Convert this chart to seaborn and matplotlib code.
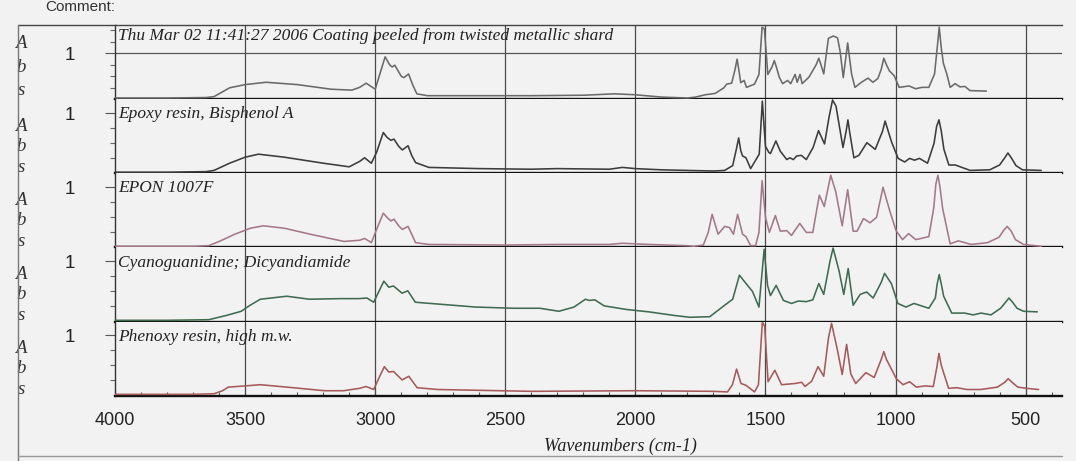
import numpy as np
import pandas as pd
import matplotlib
matplotlib.use("Agg")
import matplotlib.pyplot as plt
import matplotlib.transforms as mtransforms
from matplotlib.lines import Line2D
import seaborn as sns

# spectrum titles, top to bottom
titles = [
    "Thu Mar 02 11:41:27 2006 Coating peeled from twisted metallic shard",
    "Epoxy resin, Bisphenol A",
    "EPON 1007F",
    "Cyanoguanidine; Dicyandiamide",
    "Phenoxy resin, high m.w.",
]

# 1) unknown coating from the shard
shard_wn = [4000, 3800, 3650, 3620, 3560, 3500, 3420, 3300, 3170, 3090, 3060, 3035, 3000, 2985,
            2962, 2945, 2935, 2925, 2900, 2890, 2872, 2855, 2840, 2800, 2600, 2400, 2200, 2080,
            2000, 1900, 1800, 1769, 1731, 1693, 1660, 1649, 1630, 1618, 1609, 1600, 1595, 1582,
            1573, 1542, 1525, 1513, 1504, 1491, 1475, 1466, 1457, 1447, 1434, 1415, 1403, 1386,
            1378, 1367, 1359, 1333, 1305, 1295, 1285, 1276, 1258, 1239, 1223, 1213, 1201, 1190,
            1184, 1178, 1169, 1156, 1131, 1106, 1087, 1068, 1055, 1045, 1035, 1024, 1005, 986,
            948, 923, 898, 872, 850, 840, 832, 824, 816, 803, 790, 771, 752, 733, 714, 651]
shard_abs = [0.03, 0.03, 0.04, 0.06, 0.25, 0.32, 0.37, 0.32, 0.22, 0.20, 0.26, 0.35, 0.22, 0.50,
             0.92, 0.75, 0.70, 0.74, 0.50, 0.47, 0.55, 0.30, 0.12, 0.08, 0.08, 0.08, 0.09, 0.12,
             0.10, 0.05, 0.03, 0.05, 0.10, 0.13, 0.25, 0.33, 0.35, 0.62, 0.87, 0.55, 0.36, 0.41,
             0.26, 0.33, 0.54, 1.56, 1.52, 0.54, 0.70, 0.84, 0.68, 0.48, 0.34, 0.41, 0.34, 0.54,
             0.37, 0.54, 0.34, 0.48, 0.75, 0.89, 0.72, 0.55, 1.32, 1.37, 1.33, 1.04, 0.47, 0.95,
             1.22, 0.95, 0.55, 0.26, 0.37, 0.46, 0.37, 0.45, 0.65, 0.89, 0.75, 0.62, 0.51, 0.26,
             0.29, 0.23, 0.26, 0.26, 0.55, 1.10, 1.56, 1.10, 0.78, 0.55, 0.26, 0.34, 0.27, 0.28,
             0.19, 0.18]

# 2) epoxy resin, bisphenol A
epoxy_wn = [4000, 3800, 3650, 3620, 3560, 3500, 3449, 3350, 3200, 3100, 3060, 3041, 3015, 2995,
            2969, 2955, 2940, 2928, 2910, 2896, 2874, 2860, 2845, 2794, 2600, 2400, 2300, 2100,
            2050, 2000, 1900, 1800, 1700, 1657, 1626, 1612, 1603, 1595, 1588, 1575, 1557, 1524,
            1512, 1500, 1487, 1481, 1460, 1443, 1418, 1406, 1393, 1380, 1362, 1343, 1317, 1296,
            1273, 1255, 1242, 1229, 1202, 1190, 1183, 1175, 1160, 1141, 1110, 1078, 1050, 1040,
            1028, 1015, 990, 965, 946, 927, 908, 877, 852, 842, 833, 824, 814, 795, 770, 745,
            713, 638, 600, 580, 568, 555, 537, 512, 440]
epoxy_abs = [0.02, 0.02, 0.03, 0.05, 0.17, 0.27, 0.32, 0.27, 0.17, 0.11, 0.20, 0.26, 0.17, 0.35,
             0.68, 0.60, 0.55, 0.57, 0.45, 0.39, 0.46, 0.30, 0.18, 0.10, 0.08, 0.07, 0.08, 0.07,
             0.10, 0.08, 0.06, 0.05, 0.04, 0.05, 0.13, 0.40, 0.59, 0.38, 0.29, 0.26, 0.08, 0.32,
             1.20, 0.45, 0.35, 0.33, 0.54, 0.37, 0.23, 0.26, 0.23, 0.29, 0.30, 0.23, 0.43, 0.71,
             0.49, 0.95, 1.22, 1.12, 0.43, 0.70, 0.89, 0.65, 0.26, 0.30, 0.51, 0.40, 0.70, 0.87,
             0.70, 0.52, 0.25, 0.19, 0.25, 0.22, 0.25, 0.17, 0.50, 0.78, 0.89, 0.70, 0.40, 0.14,
             0.14, 0.10, 0.05, 0.06, 0.14, 0.26, 0.34, 0.26, 0.13, 0.06, 0.05]

# 3) EPON 1007F
epon_wn = [4000, 3700, 3640, 3600, 3540, 3480, 3430, 3350, 3250, 3120, 3060, 3041, 3015, 2995,
           2969, 2955, 2940, 2928, 2910, 2896, 2874, 2860, 2845, 2794, 2500, 2300, 2100, 2050,
           1950, 1800, 1776, 1739, 1720, 1705, 1682, 1657, 1638, 1623, 1607, 1588, 1575, 1557,
           1538, 1525, 1513, 1500, 1485, 1462, 1443, 1418, 1400, 1368, 1343, 1318, 1293, 1274,
           1249, 1230, 1205, 1184, 1163, 1148, 1123, 1098, 1073, 1058, 1048, 1035, 1023, 998,
           973, 950, 922, 872, 853, 845, 837, 829, 819, 790, 759, 709, 646, 602, 585, 571, 555,
           539, 508, 440]
epon_abs = [0.02, 0.02, 0.03, 0.10, 0.22, 0.32, 0.36, 0.32, 0.22, 0.10, 0.12, 0.15, 0.08, 0.30,
            0.57, 0.50, 0.44, 0.47, 0.36, 0.30, 0.35, 0.22, 0.08, 0.05, 0.04, 0.05, 0.05, 0.07,
            0.05, 0.03, 0.02, 0.04, 0.25, 0.55, 0.22, 0.35, 0.33, 0.22, 0.55, 0.22, 0.18, 0.03,
            0.03, 0.25, 1.11, 0.50, 0.25, 0.53, 0.27, 0.28, 0.20, 0.40, 0.25, 0.25, 0.87, 0.68,
            1.20, 0.93, 0.36, 0.96, 0.27, 0.27, 0.48, 0.41, 0.50, 0.80, 1.00, 0.80, 0.62, 0.28,
            0.13, 0.23, 0.13, 0.18, 0.66, 1.05, 1.20, 1.00, 0.65, 0.06, 0.11, 0.05, 0.08, 0.17,
            0.28, 0.35, 0.27, 0.13, 0.05, 0.02]

# 4) cyanoguanidine / dicyandiamide
cyano_wn = [4000, 3800, 3640, 3573, 3515, 3485, 3442, 3340, 3253, 3137, 3064, 3032, 3006, 2967,
            2948, 2930, 2897, 2875, 2846, 2759, 2614, 2468, 2367, 2294, 2236, 2192, 2178, 2156,
            2120, 2035, 1948, 1850, 1790, 1714, 1663, 1626, 1600, 1582, 1550, 1525, 1505, 1492,
            1481, 1459, 1431, 1400, 1374, 1343, 1318, 1295, 1276, 1252, 1240, 1217, 1199, 1182,
            1163, 1136, 1111, 1086, 1055, 1042, 1016, 991, 960, 929, 872, 847, 840, 832, 824,
            815, 784, 734, 702, 671, 633, 596, 575, 564, 550, 533, 508, 455]
cyano_abs = [0.02, 0.02, 0.03, 0.10, 0.17, 0.26, 0.37, 0.42, 0.37, 0.38, 0.38, 0.39, 0.32, 0.67,
             0.57, 0.59, 0.47, 0.51, 0.32, 0.29, 0.24, 0.22, 0.22, 0.17, 0.24, 0.37, 0.35, 0.36,
             0.26, 0.20, 0.16, 0.10, 0.07, 0.08, 0.25, 0.37, 0.77, 0.67, 0.50, 0.24, 1.20, 0.60,
             0.43, 0.60, 0.35, 0.30, 0.34, 0.33, 0.36, 0.63, 0.45, 1.00, 1.22, 0.84, 0.45, 0.88,
             0.27, 0.45, 0.49, 0.39, 0.65, 0.80, 0.63, 0.30, 0.24, 0.30, 0.22, 0.39, 0.62, 0.78,
             0.62, 0.42, 0.14, 0.14, 0.11, 0.14, 0.11, 0.22, 0.33, 0.39, 0.32, 0.22, 0.17, 0.16]

# 5) phenoxy resin
phenoxy_wn = [4000, 3700, 3620, 3587, 3565, 3500, 3442, 3340, 3195, 3122, 3060, 3035, 3006, 2985,
              2965, 2948, 2930, 2897, 2871, 2839, 2759, 2400, 2000, 1700, 1646, 1627, 1611, 1594,
              1575, 1542, 1527, 1512, 1503, 1490, 1464, 1438, 1412, 1387, 1361, 1348, 1322, 1298,
              1276, 1258, 1246, 1224, 1205, 1188, 1172, 1153, 1114, 1082, 1055, 1045, 1035, 1017,
              997, 971, 946, 920, 887, 855, 842, 833, 824, 813, 796, 764, 725, 673, 608, 580, 567,
              552, 530, 497, 450]
phenoxy_abs = [0.02, 0.02, 0.03, 0.08, 0.14, 0.16, 0.18, 0.14, 0.08, 0.08, 0.12, 0.15, 0.10, 0.30,
               0.48, 0.39, 0.40, 0.26, 0.32, 0.13, 0.10, 0.07, 0.08, 0.07, 0.06, 0.18, 0.44, 0.20,
               0.17, 0.06, 0.18, 1.22, 1.15, 0.23, 0.42, 0.18, 0.19, 0.20, 0.22, 0.15, 0.24, 0.48,
               0.32, 0.95, 1.20, 0.77, 0.35, 0.85, 0.36, 0.20, 0.38, 0.30, 0.60, 0.73, 0.60, 0.45,
               0.28, 0.18, 0.23, 0.14, 0.16, 0.15, 0.45, 0.70, 0.50, 0.35, 0.12, 0.13, 0.10, 0.10,
               0.14, 0.22, 0.28, 0.22, 0.14, 0.12, 0.10]

x_ticks = [4000, 3500, 3000, 2500, 2000, 1500, 1000, 500]

spectra = [(shard_wn, shard_abs), (epoxy_wn, epoxy_abs), (epon_wn, epon_abs),
           (cyano_wn, cyano_abs), (phenoxy_wn, phenoxy_abs)]
colors = ["#6a6a6a", "#3c3c3c", "#a4788a", "#3f6b52", "#a65a5a"]
y_max = [1.6, 1.23, 1.23, 1.23, 1.23]

paper = "#f2f2f2"
sns.set_theme(style="white", rc={"axes.facecolor": paper, "figure.facecolor": paper})
plt.rcParams["font.family"] = ["Liberation Serif", "DejaVu Serif"]

fig = plt.figure(figsize=(10.76, 4.61), dpi=100)
gs = fig.add_gridspec(5, 1, left=0.107, right=0.987, top=0.945, bottom=0.142, hspace=0)
axes = [fig.add_subplot(gs[i, 0]) for i in range(5)]

sans = ["Liberation Sans", "DejaVu Sans"]

for i, ax in enumerate(axes):
    wn, ab = spectra[i]
    df = pd.DataFrame({"wavenumber": wn, "absorbance": ab})
    sns.lineplot(data=df, x="wavenumber", y="absorbance", ax=ax, color=colors[i],
                 linewidth=1.15, sort=False, estimator=None, zorder=3)
    for ln in ax.lines:
        ln.set_solid_joinstyle("round")
    ax.set_xlim(4000, 360)
    ax.set_ylim(0, y_max[i])
    ax.set_xlabel("")
    ax.set_ylabel("")
    for g in x_ticks[1:]:
        ax.axvline(g, color="#4a4a4a", lw=0.9, zorder=1)

    ax.spines["right"].set_visible(False)
    ax.spines["top"].set_visible(i == 0)
    ax.spines["top"].set_color("#444444")
    ax.spines["top"].set_linewidth(1.0)
    ax.spines["bottom"].set_color("#111111")
    ax.spines["bottom"].set_linewidth(1.7)
    ax.spines["left"].set_color("#333333")
    ax.spines["left"].set_linewidth(1.0)

    ax.set_yticks([1])
    ax.set_yticklabels(["1"], family=sans, fontsize=13.5, color="#222222")
    minors = [0.25, 0.5, 0.75] + ([1.25, 1.5] if i == 0 else [])
    ax.set_yticks(minors, minor=True)
    ax.tick_params(axis="y", which="major", left=True, length=7, width=0.8,
                   direction="out", pad=22, color="#555555")
    ax.tick_params(axis="y", which="minor", left=True, length=3.5, width=0.8,
                   direction="out", color="#666666")

    if i == 0:
        ax.axhline(1, color="#555555", lw=0.9, zorder=1)
        ax.text(3990, 1.36, titles[i], style="italic", fontsize=12.5, color="#222222",
                va="center", ha="left", zorder=4)
    else:
        ax.text(3990, 0.98, titles[i], style="italic", fontsize=12.5, color="#222222",
                va="center", ha="left", zorder=4)

    # "A b s" letters down the far left
    trans = mtransforms.blended_transform_factory(fig.transFigure, ax.transAxes)
    spots = [0.76, 0.43, 0.12] if i == 0 else [0.64, 0.36, 0.08]
    for letter, yy in zip("Abs", spots):
        ax.text(21 / 1076, yy, letter, transform=trans, style="italic", fontsize=13.5,
                color="#333333", ha="center", va="center")

    if i < 4:
        ax.tick_params(axis="x", which="both", bottom=False, labelbottom=False)

bottom = axes[-1]
bottom.set_xticks(x_ticks)
bottom.set_xticks(np.arange(4000, 399, -100), minor=True)
bottom.set_xticklabels([str(t) for t in x_ticks], family=sans, fontsize=13, color="#222222")
bottom.tick_params(axis="x", which="major", bottom=True, direction="in", length=5,
                   width=0.8, color="#444444", pad=12)
bottom.tick_params(axis="x", which="minor", bottom=True, direction="in", length=3,
                   width=0.8, color="#555555")

fig.text(620 / 1076, 1 - 446 / 461, "Wavenumbers (cm-1)", style="italic", fontsize=13,
         color="#222222", ha="center", va="center")
fig.text(45 / 1076, 0.999, "Comment:", family=sans, fontsize=11, color="#333333",
         ha="left", va="top")

# outer frame of the printout
top_y = 0.945
fig.add_artist(Line2D([18 / 1076, 0.107], [top_y, top_y], transform=fig.transFigure,
                      color="#444444", lw=1.0))
fig.add_artist(Line2D([18 / 1076, 18 / 1076], [top_y, 0.0], transform=fig.transFigure,
                      color="#777777", lw=1.0))
fig.add_artist(Line2D([18 / 1076, 1062 / 1076], [1 - 456 / 461] * 2, transform=fig.transFigure,
                      color="#999999", lw=1.0))

fig.savefig("out.png", dpi=100, facecolor=paper)
